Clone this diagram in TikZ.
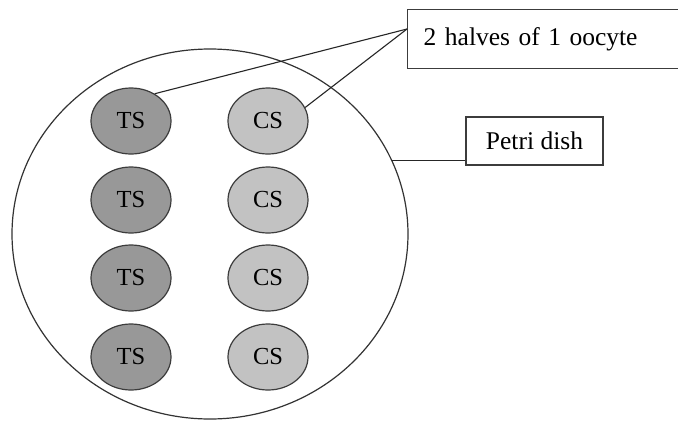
\documentclass[tikz,border=0pt]{standalone}
\usepackage{fontspec}
\setmainfont{Liberation Serif}
\usetikzlibrary{shapes.geometric}
\definecolor{edge}{RGB}{60,60,60}
\definecolor{tsfill}{RGB}{152,152,152}
\definecolor{csfill}{RGB}{194,194,194}
\tikzset{
  half/.style={ellipse, draw=edge, line width=1.2pt, minimum width=80pt,
    minimum height=66pt, inner sep=0pt, font=\fontsize{24.5}{28}\selectfont},
  tshalf/.style={half, fill=tsfill},
  cshalf/.style={half, fill=csfill},
  label box/.style={draw=edge, line width=1.4pt, inner sep=0pt,
    font=\fontsize{25.5}{30}\selectfont},
  leader/.style={draw=black!85, line width=1.1pt}
}
\begin{document}
\begin{tikzpicture}[x=1pt,y=-1pt]
  \useasboundingbox (0,0) rectangle (678,421);
  \clip (0,0) rectangle (678,421);
  \fill[white] (0,0) rectangle (678,421);

  % the dish
  \node[ellipse, draw=black!80, line width=1.2pt, minimum width=396pt,
        minimum height=370pt, inner sep=0pt] (dish) at (210,234) {};

  % oocyte halves, one row per oocyte
  \foreach \r/\y in {1/121,2/200,3/278,4/357}{
    \node[tshalf] (ts\r) at (131,\y) {TS};
    \node[cshalf] (cs\r) at (268,\y) {CS};
  }

  % labels
  \node[label box, anchor=north west, minimum width=300pt, minimum height=59pt,
        text width=268pt, inner xsep=16pt, align=left] (halves) at (407,9)
        {2 halves of 1 oocyte};
  \node[label box, minimum width=137pt, minimum height=48pt] (petri)
        at (534.5,141) {Petri dish};

  % leader lines
  \coordinate (tip) at (407,29);
  \draw[leader] (ts1.49) -- (tip);
  \draw[leader] (cs1.20) -- (tip);
  \draw[leader] (dish.22) -- (dish.22 -| petri.west);
\end{tikzpicture}
\end{document}
